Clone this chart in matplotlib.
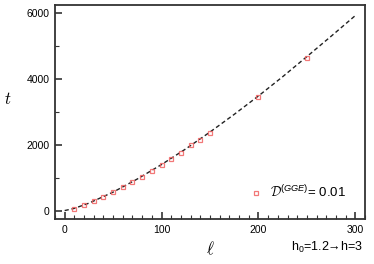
import matplotlib
matplotlib.use("Agg")
import matplotlib.pyplot as plt
from matplotlib.ticker import MultipleLocator

plt.rcParams['font.family'] = ['Liberation Sans', 'DejaVu Sans']
plt.rcParams['mathtext.fontset'] = 'custom'
plt.rcParams['mathtext.rm'] = 'Liberation Sans'
plt.rcParams['mathtext.it'] = 'Liberation Sans:italic'
plt.rcParams['mathtext.cal'] = 'cmsy10'

## data
ell_pts = [10, 20, 30, 40, 50, 60, 70, 80, 90, 100, 110, 120, 130, 140, 150, 200, 250]
t_pts = [55, 176, 297, 418, 560, 712, 864, 1024, 1206, 1388, 1570, 1763, 1985, 2158, 2358, 3461, 4652]

ell_fit = [0, 10, 25, 50, 75, 100, 125, 150, 175, 200, 225, 250, 275, 300]
t_fit = [0, 67, 225, 561, 960, 1400, 1875, 2388, 2925, 3485, 4070, 4682, 5300, 5930]

fig = plt.figure(figsize=(3.74, 2.64), dpi=100)
ax = fig.add_axes([0.147, 0.170, 0.829, 0.811])

ax.plot(ell_fit, t_fit, ls=(0, (3, 2)), color='#222222', lw=1.0, zorder=2)
ax.plot(ell_pts, t_pts, 's', ms=3.5, mfc='none', mec='#f06060', mew=0.9, alpha=0.85,
        zorder=3, label=r'$\mathcal{D}^{(GGE)}$= 0.01')

ax.set_xlim(-10, 310)
ax.set_ylim(-260, 6250)
ax.xaxis.set_major_locator(MultipleLocator(100))
ax.xaxis.set_minor_locator(MultipleLocator(10))
ax.yaxis.set_major_locator(MultipleLocator(2000))
ax.yaxis.set_minor_locator(MultipleLocator(1000))
ax.tick_params(which='both', direction='in', color='#333333', labelsize=7.5, pad=4)
ax.tick_params(which='major', length=5, width=1.2)
ax.tick_params(which='minor', length=3, width=0.8)
for s in ax.spines.values():
    s.set_color('#333333')
    s.set_linewidth(1.3)

leg = ax.legend(loc='lower right', bbox_to_anchor=(0.97, 0.045), frameon=False,
                fontsize=9.5, handlelength=1.0, handletextpad=0.6, borderpad=0.2)

ax.set_xlabel(r'$\ell$', fontsize=12, math_fontfamily='cm', labelpad=4)
fig.text(0.02, 0.625, r'$t$', fontsize=12, math_fontfamily='cm', ha='center', va='center')
fig.text(0.97, 0.064, 'h$_0$=1.2\u2192h=3', fontsize=9, ha='right', va='center')

fig.savefig("out.png", dpi=100)
